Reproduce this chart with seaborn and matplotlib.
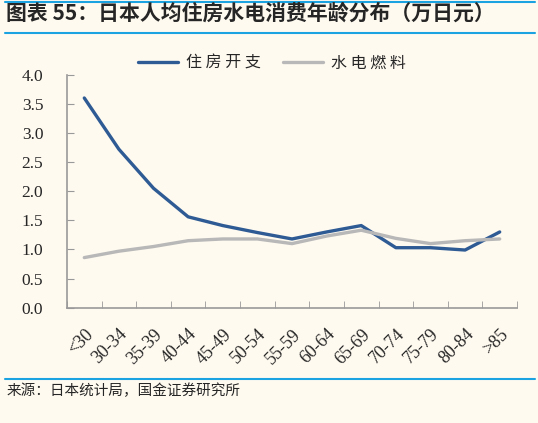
import numpy as np
import pandas as pd
import matplotlib
matplotlib.use("Agg")
import matplotlib.pyplot as plt
from matplotlib.lines import Line2D
import seaborn as sns

# data
age_groups = ["<30", "30-34", "35-39", "40-44", "45-49", "50-54", "55-59",
              "60-64", "65-69", "70-74", "75-79", "80-84", ">85"]
housing = [3.60, 2.72, 2.05, 1.56, 1.41, 1.29, 1.18, 1.30, 1.41, 1.03, 1.03, 0.99, 1.30]
utilities = [0.86, 0.97, 1.05, 1.15, 1.18, 1.18, 1.10, 1.23, 1.33, 1.19, 1.10, 1.15, 1.18]
series_names = ["住房开支", "水电燃料"]
yticks = [0.0, 0.5, 1.0, 1.5, 2.0, 2.5, 3.0, 3.5, 4.0]

bg = "#fffaf0"
blue = "#2f5b94"
gray = "#b8b8b8"
rule = "#1aa3e0"

sns.set_style("ticks")
plt.rcParams['font.family'] = ['Liberation Serif', 'Noto Sans CJK SC']

df = pd.DataFrame({
    "age": list(range(len(age_groups))) * 2,
    "value": housing + utilities,
    "series": [series_names[0]] * len(housing) + [series_names[1]] * len(utilities),
})

fig = plt.figure(figsize=(5.38, 4.23), dpi=100, facecolor=bg)
ax = fig.add_axes([0.1245, 0.2726, 0.8365, 0.5508])
ax.set_facecolor(bg)

sns.lineplot(data=df, x="age", y="value", hue="series",
             palette=[blue, gray], linewidth=2.4, ax=ax, legend=False)

ax.set_xlim(-0.5, len(age_groups) - 0.5)
ax.set_ylim(0, 4.0)
ax.set_yticks(yticks)
ax.set_yticklabels([f"{v:.1f}" for v in yticks], fontsize=12.5)
ax.set_xticks(range(len(age_groups)))
ax.set_xticklabels(age_groups, rotation=45, fontsize=13, ha="right",
                   rotation_mode="anchor")
ax.set_xticks(np.arange(-0.5, len(age_groups)), minor=True)
ax.tick_params(axis="x", which="major", length=0, pad=13)
ax.tick_params(axis="x", which="minor", direction="in", length=5, color="#999999")
ax.tick_params(axis="y", direction="in", length=5, color="#999999", pad=17)
ax.set_xlabel("")
ax.set_ylabel("")
for s in ["top", "right"]:
    ax.spines[s].set_visible(False)
for s in ["left", "bottom"]:
    ax.spines[s].set_color("#999999")
    ax.spines[s].set_linewidth(1.2)

# legend
handles = [Line2D([], [], color=blue, lw=2.4), Line2D([], [], color=gray, lw=2.4)]
fig.legend(handles, [" ".join(n) for n in series_names], loc="center",
           bbox_to_anchor=(0.505, 0.851), ncol=2, frameon=False,
           prop={"family": "Noto Sans CJK SC", "size": 11.5},
           handlelength=2.5, columnspacing=1.4, handletextpad=0.5)

# title, rules, source
fig.text(0.012, 0.969, "图表 55：日本人均住房水电消费年龄分布（万日元）",
         fontsize=15, fontweight="bold", fontstyle="italic",
         family=["Noto Sans CJK SC", "DejaVu Sans"], va="center", ha="left")
fig.add_artist(Line2D([0.01, 0.995], [0.996, 0.996], color=rule, lw=1.5))
fig.add_artist(Line2D([0.01, 0.995], [0.922, 0.922], color=rule, lw=1.5))
fig.add_artist(Line2D([0.01, 0.995], [0.104, 0.104], color=rule, lw=1.5))
fig.text(0.012, 0.077, "来源：日本统计局，国金证券研究所", fontsize=10.5,
         family=["Noto Sans CJK SC", "DejaVu Sans"], va="center", ha="left")

fig.savefig("out.png", dpi=100, facecolor=bg)
